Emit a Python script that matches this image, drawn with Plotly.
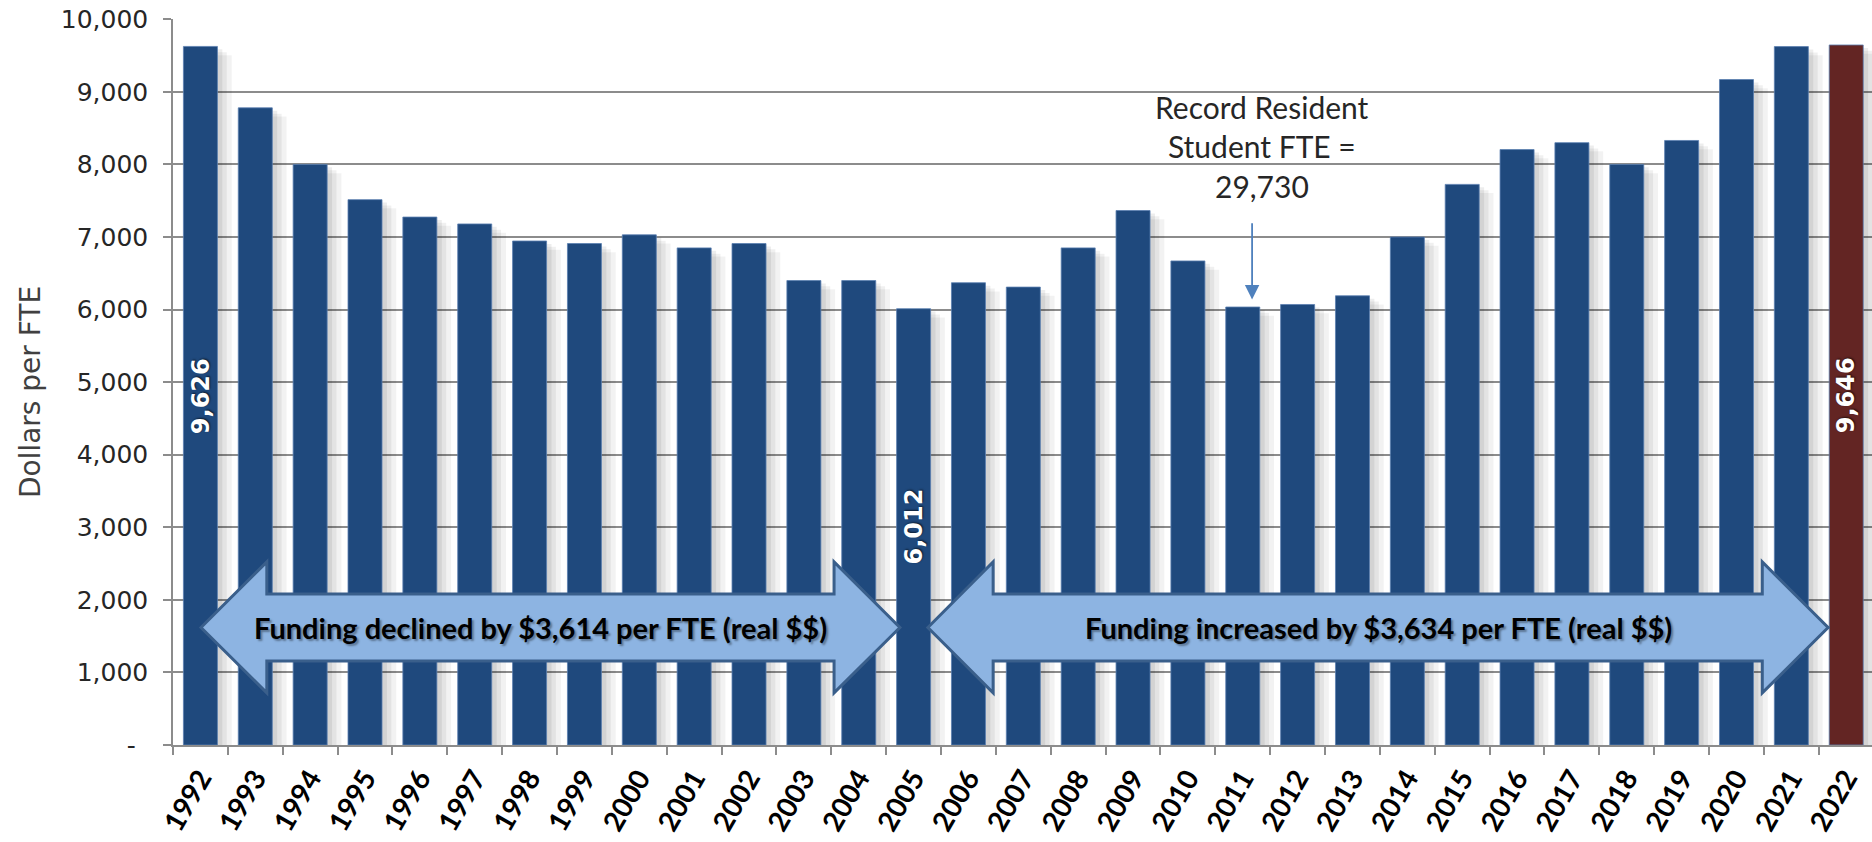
import plotly.graph_objects as go

# ---------------- data ----------------
years = ["1992", "1993", "1994", "1995", "1996", "1997", "1998", "1999", "2000",
         "2001", "2002", "2003", "2004", "2005", "2006", "2007", "2008", "2009",
         "2010", "2011", "2012", "2013", "2014", "2015", "2016", "2017", "2018",
         "2019", "2020", "2021", "2022"]
dollars_per_fte = [9626, 8780, 8000, 7515, 7275, 7180, 6945, 6910, 7030,
                   6850, 6910, 6400, 6400, 6012, 6370, 6310, 6850, 7365,
                   6670, 6035, 6070, 6190, 7000, 7725, 8205, 8300, 8000,
                   8330, 9170, 9624, 9646]
labeled_years = ["1992", "2005", "2022"]
highlight_year = "2022"
y_tick_values = [0, 1000, 2000, 3000, 4000, 5000, 6000, 7000, 8000, 9000, 10000]
y_tick_labels = ["-\u2002", "1,000", "2,000", "3,000", "4,000", "5,000",
                 "6,000", "7,000", "8,000", "9,000", "10,000"]
declined_text = "Funding declined by $3,614 per FTE (real $$)"
increased_text = "Funding increased by $3,634 per FTE (real $$)"
record_lines = ["Record Resident", "Student FTE =", "29,730"]
record_year = "2011"

# ---------------- styles ----------------
BLUE = "#1F497D"
RED = "#632523"
GRID = "#8c8c8c"
ARROW_FILL = "#8DB4E2"
ARROW_LINE = "#3A5F8B"
BAR_W = 0.62

colors = [RED if y == highlight_year else BLUE for y in years]

fig = go.Figure()

# soft drop shadow behind bars (same data, offset)
for dx, dy, a in [(0.09, 40, 0.07), (0.17, 80, 0.06), (0.26, 120, 0.05)]:
    fig.add_trace(go.Bar(
        x=years, y=[v - dy for v in dollars_per_fte],
        width=BAR_W, offset=-BAR_W / 2 + dx,
        marker=dict(color=f"rgba(0,0,0,{a})", line=dict(width=0)),
        hoverinfo="skip", showlegend=False,
    ))

fig.add_trace(go.Bar(
    x=years, y=dollars_per_fte,
    width=BAR_W, offset=-BAR_W / 2,
    marker=dict(color=colors, line=dict(width=0.8, color="#5a7fb0")),
    showlegend=False,
))

# value labels inside selected bars (category index positions)
for y in labeled_years:
    i = years.index(y)
    v = dollars_per_fte[i]
    fig.add_annotation(
        x=i, y=v / 2, xref="x", yref="y", text=f"<b>{v:,}</b>",
        showarrow=False, textangle=-90,
        font=dict(family="DejaVu Sans", size=24, color="white",
                  shadow="1px 1px 2px rgba(0,0,0,0.6)"),
        xanchor="center", yanchor="middle",
    )


def block_arrow(xl_tip, xl_back, xr_back, xr_tip, ymid, shaft_half, head_half):
    pts = [
        (xl_tip, ymid),
        (xl_back, ymid + head_half),
        (xl_back, ymid + shaft_half),
        (xr_back, ymid + shaft_half),
        (xr_back, ymid + head_half),
        (xr_tip, ymid),
        (xr_back, ymid - head_half),
        (xr_back, ymid - shaft_half),
        (xl_back, ymid - shaft_half),
        (xl_back, ymid - head_half),
    ]
    return "M " + " L ".join(f"{x},{y}" for x, y in pts) + " Z"


ARROW_MID = 1620
for (a, b, c, d), txt, xc in [
    ((0.01, 1.21, 11.55, 12.75), declined_text, 6.19),
    ((13.26, 14.45, 28.47, 29.67), increased_text, 21.47),
]:
    fig.add_shape(type="path", xref="x", yref="y",
                  path=block_arrow(a, b, c, d, ARROW_MID, 462, 902),
                  fillcolor=ARROW_FILL, line=dict(color=ARROW_LINE, width=3),
                  layer="above")
    fig.add_annotation(
        x=xc, y=ARROW_MID, xref="x", yref="y", text=f"<b>{txt}</b>",
        showarrow=False, xanchor="center", yanchor="middle",
        font=dict(family="Lato", size=29, color="black",
                  shadow="2px 2px 2px rgba(0,0,0,0.35)"),
    )

# record FTE note with arrow
ri = years.index(record_year)
for line, yv in zip(record_lines, [8790, 8250, 7700]):
    fig.add_annotation(
        x=ri + 0.35, y=yv, xref="x", yref="y", text=line, showarrow=False,
        xanchor="center", yanchor="middle",
        font=dict(family="Lato", size=30, color="#262626"),
    )
fig.add_annotation(
    x=ri + 0.17, y=6140, ax=ri + 0.17, ay=7210, xref="x", yref="y",
    axref="x", ayref="y",
    text="", showarrow=True, arrowhead=2, arrowsize=1.6, arrowwidth=1.8,
    arrowcolor="#4F81BD",
)

# y-axis title
fig.add_annotation(
    xref="paper", yref="paper", x=-0.0842, y=0.486, text="Dollars per FTE",
    textangle=-90, showarrow=False, xanchor="center", yanchor="middle",
    font=dict(family="DejaVu Sans", size=28, color="#404040"),
)

fig.update_layout(
    width=1872, height=842,
    margin=dict(l=173, r=0, t=19, b=97),
    paper_bgcolor="white", plot_bgcolor="white",
    barmode="overlay", bargap=0.38,
    xaxis=dict(
        type="category", range=[-0.5, 30.47],
        tickson="boundaries", ticks="outside", ticklen=8, tickwidth=1.5,
        tickcolor=GRID, showline=True, linecolor=GRID, linewidth=1.5,
        showgrid=False, tickangle=-60, ticklabelstandoff=4,
        tickfont=dict(family="Lato", size=28, color="black", weight="bold"),
        automargin=False,
    ),
    yaxis=dict(
        range=[0, 10004], tickvals=y_tick_values, ticktext=y_tick_labels,
        ticks="outside", ticklen=8, tickwidth=1.5, tickcolor=GRID,
        showline=True, linecolor=GRID, linewidth=1.5,
        showgrid=True, gridcolor=GRID, gridwidth=1.5, zeroline=False,
        ticklabelstandoff=10, automargin=False, ticklabeloverflow="allow",
        tickfont=dict(family="DejaVu Sans", size=25, color="#262626"),
    ),
)

# remove the browser's default 8px body margin so the figure fills the window
fig.write_html("out.html",
               config={"displayModeBar": False},
               post_script="document.body.style.margin='0';")
